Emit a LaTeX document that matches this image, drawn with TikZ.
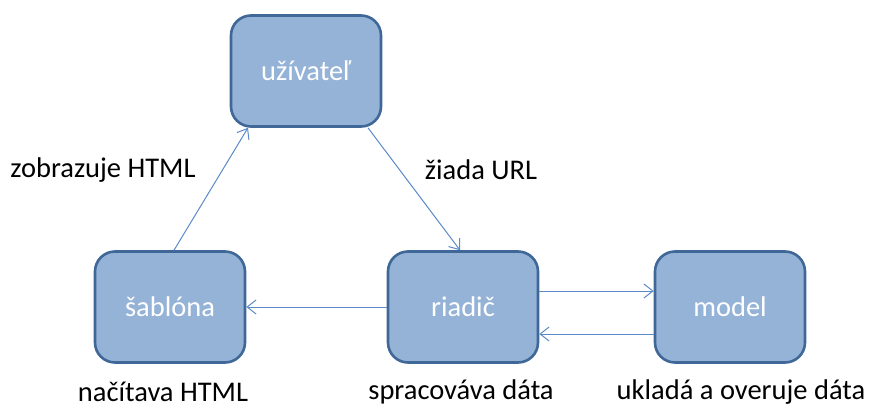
\documentclass[tikz,border=0pt]{standalone}
\usepackage{fontspec}
\setmainfont{Carlito}
\usepackage{tikz}
\usetikzlibrary{arrows.meta}

\definecolor{boxfill}{HTML}{95B3D7}
\definecolor{boxline}{HTML}{3F6797}
\definecolor{arrline}{HTML}{5A8AC8}

\begin{document}
\begin{tikzpicture}[x=1pt,y=-1pt,
  part/.style={draw=boxline, line width=2.6pt, fill=boxfill, rounded corners=20pt,
    minimum width=150pt, minimum height=111pt, text=white, font=\fontsize{28.5}{31}\selectfont},
  lbl/.style={font=\fontsize{28.5}{31}\selectfont},
  flow/.style={draw=arrline, line width=1pt, -{Straight Barb[length=9pt,width=14pt]}}]
\useasboundingbox (0,0) rectangle (870,410);
% boxes
\node [part] (uziv) at (306,71) {užívateľ};
\node [part] (sabl) at (170,307) {šablóna};
\node [part] (riad) at (463,307) {riadič};
\node [part] (modl) at (730,307) {model};
% arrows
\draw [flow] ([xshift=4pt]sabl.north) -- ([xshift=-58pt]uziv.south);
\draw [flow] ([xshift=62pt]uziv.south) -- ([xshift=-3pt]riad.north);
\draw [flow] (riad.west) -- (sabl.east);
\draw [flow] ([yshift=16pt]riad.east) -- ([yshift=16pt]modl.west);
\draw [flow] ([yshift=-27pt]modl.west) -- ([yshift=-27pt]riad.east);
% labels
\node [lbl] (zobr) at (103,170) {zobrazuje HTML};
\node [lbl] (ziad) at (481,170) {žiada URL};
\node [lbl] (naci) at (163,392) {načítava HTML};
\node [lbl] (spra) at (461,392) {spracováva dáta};
\node [lbl] (ukla) at (741,392) {ukladá a overuje dáta};
\end{tikzpicture}
\end{document}
